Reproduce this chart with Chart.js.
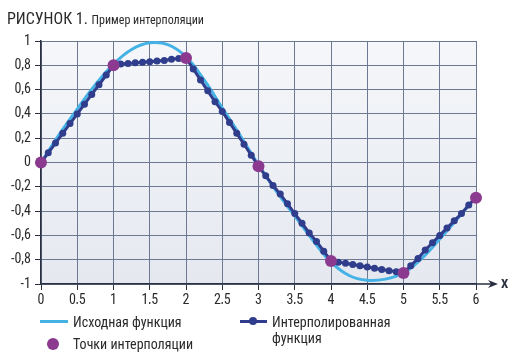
<!DOCTYPE html>
<html><head><meta charset="utf-8">
<script src="https://cdn.jsdelivr.net/npm/chart.js@4/dist/chart.umd.min.js"></script>
<style>
html,body{margin:0;padding:0;background:#fff;}
#wrap{position:relative;width:514px;height:353px;overflow:hidden;font-family:"Liberation Sans Narrow","Roboto Condensed","Arial Narrow",Roboto,sans-serif;color:#2a2a2a;}
canvas{position:absolute;left:0;top:0;}
.t{position:absolute;white-space:nowrap;}
#title{left:7px;top:9px;font-size:16px;}
#title small{font-size:12px;}
.lg{position:absolute;font-size:14px;line-height:16px;white-space:nowrap;}
</style></head><body>
<div id="wrap">
<canvas id="c" width="514" height="353"></canvas>
<div id="title" class="t">РИСУНОК 1. <small>Пример интерполяции</small></div>
<div class="lg" style="left:40px;top:320px;width:28px;height:3px;background:#45b2e6;"></div>
<div class="lg" style="left:73px;top:314px;">Исходная функция</div>
<div class="lg" style="left:240px;top:320px;width:27px;height:3px;background:#2f3d8c;"></div>
<div class="lg" style="left:249px;top:317px;width:8px;height:8px;border-radius:50%;background:#2f3d8c;"></div>
<div class="lg" style="left:272px;top:314px;">Интерполированная<br>функция</div>
<div class="lg" style="left:47px;top:338px;width:12px;height:12px;border-radius:50%;background:#8b3a8f;"></div>
<div class="lg" style="left:73px;top:336px;">Точки интерполяции</div>
</div>
<script>
// X ticks and data
const xTickLabels = ['0','0,5','1','1,5','2','2,5','3','3,5','4','4,5','5','5,5','6'];
const srcX = [0,0.25,0.5,0.75,1,1.25,1.5,1.75,2,2.25,2.5,2.75,3,3.25,3.5,3.75,4,4.25,4.5,4.75,5,5.25,5.5,5.75,6];
const srcY = [0,0.23,0.44,0.64,0.81,0.93,0.985,0.97,0.87,0.68,0.45,0.22,-0.02,-0.24,-0.44,-0.64,-0.82,-0.93,-0.97,-0.96,-0.91,-0.79,-0.63,-0.46,-0.28];
const intX = [0,0.1,0.2,0.3,0.4,0.5,0.6,0.7,0.8,0.9,1,1.1,1.2,1.3,1.4,1.5,1.6,1.7,1.8,1.9,2,2.1,2.2,2.3,2.4,2.5,2.6,2.7,2.8,2.9,3,3.1,3.2,3.3,3.4,3.5,3.6,3.7,3.8,3.9,4,4.1,4.2,4.3,4.4,4.5,4.6,4.7,4.8,4.9,5,5.1,5.2,5.3,5.4,5.5,5.6,5.7,5.8,5.9,6];
const intY = [0,0.08,0.16,0.24,0.32,0.4,0.48,0.56,0.64,0.72,0.8,0.81,0.815,0.82,0.825,0.83,0.835,0.84,0.85,0.855,0.86,0.77,0.68,0.59,0.5,0.42,0.33,0.24,0.15,0.06,-0.03,-0.11,-0.19,-0.26,-0.34,-0.42,-0.5,-0.58,-0.65,-0.73,-0.81,-0.82,-0.83,-0.84,-0.85,-0.86,-0.87,-0.88,-0.89,-0.9,-0.91,-0.85,-0.79,-0.72,-0.66,-0.6,-0.54,-0.48,-0.42,-0.35,-0.29];
const nodeX = [0,1,2,3,4,5,6];
const nodeY = [0,0.8,0.86,-0.03,-0.81,-0.91,-0.29];

const pts = (xs, ys) => xs.map((x,i)=>({x:x,y:ys[i]}));
const FONT = '"Liberation Sans Narrow","Roboto Condensed","Arial Narrow",Roboto,sans-serif';

const bgPlugin = {
  id:'bg',
  beforeDraw(chart){
    const {ctx, chartArea:a} = chart;
    const g = ctx.createLinearGradient(0,a.top,0,a.bottom);
    g.addColorStop(0,'#f5f7fa'); g.addColorStop(1,'#e5e8ef');
    ctx.save(); ctx.fillStyle=g; ctx.fillRect(a.left,a.top,a.right-a.left,a.bottom-a.top); ctx.restore();
  },
  afterDraw(chart){
    const {ctx, chartArea:a} = chart;
    ctx.save();
    ctx.strokeStyle='#2b3040'; ctx.lineWidth=1.5;
    ctx.beginPath(); ctx.moveTo(a.right, a.bottom); ctx.lineTo(a.right+18, a.bottom); ctx.stroke();
    ctx.fillStyle='#2b3040';
    ctx.beginPath(); ctx.moveTo(a.right+22,a.bottom); ctx.lineTo(a.right+12,a.bottom-4); ctx.lineTo(a.right+15,a.bottom); ctx.lineTo(a.right+12,a.bottom+4); ctx.closePath(); ctx.fill();
    ctx.font='bold 13px '+FONT; ctx.textBaseline='middle'; ctx.textAlign='left';
    ctx.fillText('X', a.right+25, a.bottom+1);
    ctx.restore();
  }
};

new Chart(document.getElementById('c'), {
  type:'scatter',
  data:{datasets:[
    {label:'Точки интерполяции', data:pts(nodeX,nodeY), showLine:false, pointRadius:6, pointHoverRadius:6, backgroundColor:'#8b3a8f', borderColor:'#8b3a8f', borderWidth:0},
    {label:'Интерполированная функция', data:pts(intX,intY), showLine:true, borderColor:'#2f3d8c', backgroundColor:'#2f3d8c', borderWidth:3, pointRadius:3.5, pointBorderWidth:0, tension:0},
    {label:'Исходная функция', data:pts(srcX,srcY), showLine:true, borderColor:'#45b2e6', borderWidth:3, pointRadius:0, tension:0.4}
  ]},
  options:{
    responsive:false, animation:false, clip:false,
    layout:{padding:{top:41,left:0,right:38,bottom:49}},
    plugins:{legend:{display:false}, tooltip:{enabled:false}},
    scales:{
      x:{type:'linear', min:0, max:6,
        afterFit(s){ s.height=20; },
        ticks:{stepSize:0.5, padding:2, color:'#2a2a2a', font:{family:FONT, size:14}, maxRotation:0, autoSkip:false,
          callback:(v)=>{ const i=Math.round(v*2); return xTickLabels[i] !== undefined ? xTickLabels[i] : ''; }},
        grid:{color:'#6d7893', lineWidth:1, tickLength:6, tickColor:'#2b3040'},
        border:{color:'#2b3040', width:1.5}
      },
      y:{min:-1, max:1,
        ticks:{stepSize:0.2, padding:4, color:'#2a2a2a', font:{family:FONT, size:14}, callback:v=>{const r=Math.round(v*10)/10; return String(r).replace('.',',');}},
        afterFit(s){ s.width=41; },
        grid:{color:'#6d7893', lineWidth:1, tickLength:6, tickColor:'#2b3040'},
        border:{color:'#2b3040', width:1.5}
      }
    }
  },
  plugins:[bgPlugin]
});
</script>
</body></html>
